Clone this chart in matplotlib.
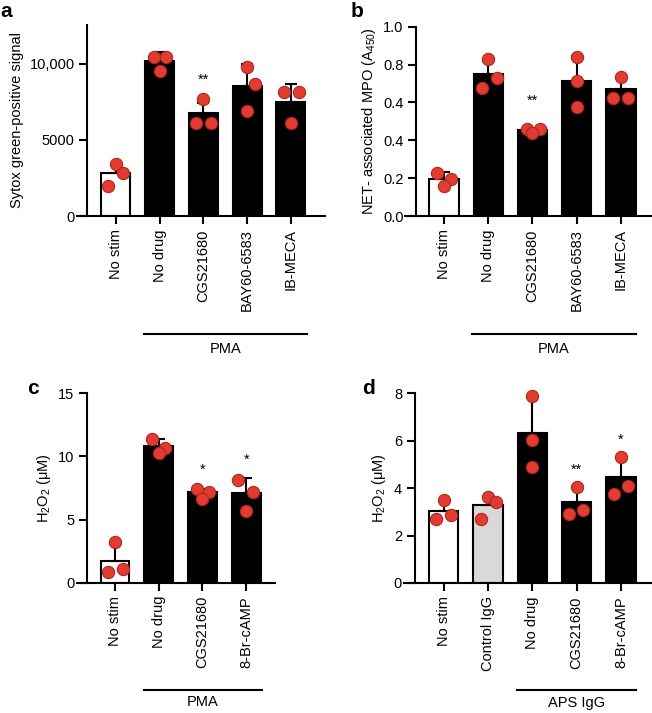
import numpy as np
import matplotlib
matplotlib.use("Agg")
import matplotlib.pyplot as plt

plt.rcParams['font.family'] = ['Liberation Sans', 'DejaVu Sans']
plt.rcParams['mathtext.fontset'] = 'custom'
plt.rcParams['mathtext.rm'] = 'Liberation Sans'
plt.rcParams['mathtext.it'] = 'Liberation Sans'

# ---- panel a: Sytox green-positive signal
a_labels = ["No stim", "No drug", "CGS21680", "BAY60-6583", "IB-MECA"]
a_means = [2800, 10180, 6750, 8550, 7520]
a_err = [650, 590, 700, 1430, 1160]
a_points = [[3450, 2800, 2000], [10480, 10480, 9540], [7700, 6140, 6140],
            [9820, 8680, 6910], [8180, 8180, 6100]]
a_offsets = [[0, 0.17, -0.17], [-0.14, 0.15, 0], [0, -0.17, 0.17],
             [0, 0.18, 0], [-0.15, 0.18, 0]]
a_fill = ["white", "black", "black", "black", "black"]
a_stars = {2: "**"}
a_star_y = 8950

# ---- panel b: NET-associated MPO
b_labels = ["No stim", "No drug", "CGS21680", "BAY60-6583", "IB-MECA"]
b_means = [0.197, 0.75, 0.454, 0.713, 0.669]
b_err = [0.035, 0.07, 0.01, 0.13, 0.06]
b_points = [[0.229, 0.197, 0.158], [0.827, 0.731, 0.678], [0.458, 0.458, 0.437],
            [0.842, 0.713, 0.574], [0.732, 0.625, 0.625]]
b_offsets = [[-0.15, 0.16, 0], [0, 0.19, -0.15], [-0.13, 0.16, 0],
             [0, 0, 0], [0, -0.17, 0.17]]
b_fill = ["white", "black", "black", "black", "black"]
b_stars = {2: "**"}
b_star_y = 0.61
b_ticks = [0.0, 0.2, 0.4, 0.6, 0.8, 1.0]
b_ticklabels = ["0.0", "0.2", "0.4", "0.4", "0.8", "1.0"]

# ---- panel c: H2O2, PMA
c_labels = ["No stim", "No drug", "CGS21680", "8-Br-cAMP"]
c_means = [1.75, 10.85, 7.17, 7.14]
c_err = [1.3, 0.55, 0.25, 1.14]
c_points = [[3.25, 0.87, 1.08], [11.4, 10.7, 10.26], [7.4, 7.22, 6.6],
            [8.15, 7.17, 5.71]]
c_offsets = [[0, -0.15, 0.18], [-0.15, 0.15, 0], [-0.13, 0.14, 0],
             [-0.18, 0.16, 0]]
c_fill = ["white", "black", "black", "black"]
c_stars = {2: "*", 3: "*"}
c_star_y = [None, None, 8.94, 9.74]

# ---- panel d: H2O2, APS IgG
d_labels = ["No stim", "Control IgG", "No drug", "CGS21680", "8-Br-cAMP"]
d_means = [3.05, 3.27, 6.32, 3.40, 4.46]
d_err = [0.45, 0.35, 1.55, 0.6, 0.85]
d_points = [[3.51, 2.69, 2.88], [3.62, 3.40, 2.71], [7.89, 6.01, 4.88],
            [4.03, 2.92, 3.06], [5.33, 3.76, 4.10]]
d_offsets = [[0, -0.17, 0.16], [0, 0.17, -0.15], [0, 0, 0],
             [0, -0.17, 0.15], [0, -0.15, 0.17]]
d_fill = ["white", "#d9d9d9", "black", "black", "black"]
d_stars = {3: "**", 4: "*"}
d_star_y = [None, None, None, 4.77, 6.03]

W, H = 652, 713
fig = plt.figure(figsize=(W / 100, H / 100), dpi=100)

FS = 10.5
DOT = "#e03c31"
DOT_EDGE = "#b3261c"


def px_axes(x0, x1, ytop, ybot):
    return fig.add_axes([x0 / W, 1 - ybot / H, (x1 - x0) / W, (ybot - ytop) / H])


def draw(ax, labels, means, err, points, offsets, fill, xlim, spine_x, ylim):
    x = np.arange(len(labels))
    ax.bar(x, means, width=0.66, color=fill, edgecolor="black", linewidth=1.5, zorder=2)
    ax.errorbar(x, means, yerr=[np.zeros(len(x)), err], fmt="none", ecolor="black",
                elinewidth=1.5, capsize=4.5, capthick=1.5, zorder=3)
    for i, (pts, offs) in enumerate(zip(points, offsets)):
        ax.scatter(i + np.array(offs), pts, s=78, color=DOT, edgecolor=DOT_EDGE,
                   linewidth=0.8, zorder=4, clip_on=False)
    ax.set_xlim(*xlim)
    ax.set_ylim(*ylim)
    ax.spines["left"].set_position(("data", spine_x))
    ax.spines["top"].set_visible(False)
    ax.spines["right"].set_visible(False)
    for s in ("left", "bottom"):
        ax.spines[s].set_linewidth(1.5)
    ax.set_xticks(x)
    ax.set_xticklabels(labels, rotation=90, fontsize=FS)
    ax.tick_params(axis="both", width=1.5, length=6, labelsize=FS)
    ax.tick_params(axis="y", pad=3)


def group_line(ax, x0, x1, yline, ytext, text):
    tr = ax.get_xaxis_transform()
    ax.plot([x0, x1], [yline, yline], color="black", lw=1.5, transform=tr, clip_on=False)
    ax.text((x0 + x1) / 2, ytext, text, transform=tr, ha="center", va="center", fontsize=FS)


# a
ax_a = px_axes(77, 325, 25, 216)
draw(ax_a, a_labels, a_means, a_err, a_points, a_offsets, a_fill,
     (-0.89, 4.78), -0.66, (0, 12560))
ax_a.set_yticks([0, 5000, 10000])
ax_a.set_yticklabels(["0", "5000", "10,000"])
ax_a.set_ylabel("Sytox green-positive signal", fontsize=FS, labelpad=4)
for i, s in a_stars.items():
    ax_a.text(i, a_star_y, s, ha="center", va="center", fontsize=FS)
group_line(ax_a, 0.64, 4.36, -0.618, -0.696, "PMA")

# b
ax_b = px_axes(405, 651, 26.7, 216)
draw(ax_b, b_labels, b_means, b_err, b_points, b_offsets, b_fill,
     (-0.88, 4.68), -0.63, (0, 1.0))
ax_b.set_yticks(b_ticks)
ax_b.set_yticklabels(b_ticklabels)
ax_b.set_ylabel("NET- associated MPO (A$_{450}$)", fontsize=FS, labelpad=4)
for i, s in b_stars.items():
    ax_b.text(i, b_star_y, s, ha="center", va="center", fontsize=FS)
group_line(ax_b, 0.64, 4.34, -0.623, -0.703, "PMA")

# c
ax_c = px_axes(77, 275, 393.3, 582.7)
draw(ax_c, c_labels, c_means, c_err, c_points, c_offsets, c_fill,
     (-0.87, 3.66), -0.64, (0, 15))
ax_c.set_yticks([0, 5, 10, 15])
ax_c.set_ylabel("H$_2$O$_2$ (\u03bcM)", fontsize=FS, labelpad=4)
for i, s in c_stars.items():
    ax_c.text(i, c_star_y[i], s, ha="center", va="center", fontsize=FS)
group_line(ax_c, 0.66, 3.37, -0.567, -0.632, "PMA")

# d
ax_d = px_axes(404, 651, 393.3, 583)
draw(ax_d, d_labels, d_means, d_err, d_points, d_offsets, d_fill,
     (-0.9, 4.68), -0.66, (0, 8))
ax_d.set_yticks([0, 2, 4, 6, 8])
ax_d.set_ylabel("H$_2$O$_2$ (\u03bcM)", fontsize=FS, labelpad=4)
for i, s in d_stars.items():
    ax_d.text(i, d_star_y[i], s, ha="center", va="center", fontsize=FS)
group_line(ax_d, 1.65, 4.34, -0.564, -0.63, "APS IgG")

# panel letters
for lbl, x, y in [("a", 0, 2), ("b", 351, 2), ("c", 27, 379), ("d", 362, 379)]:
    fig.text(x / W, 1 - y / H, lbl, fontsize=15, fontweight="bold", ha="left", va="top")

fig.savefig("out.png", dpi=100)
